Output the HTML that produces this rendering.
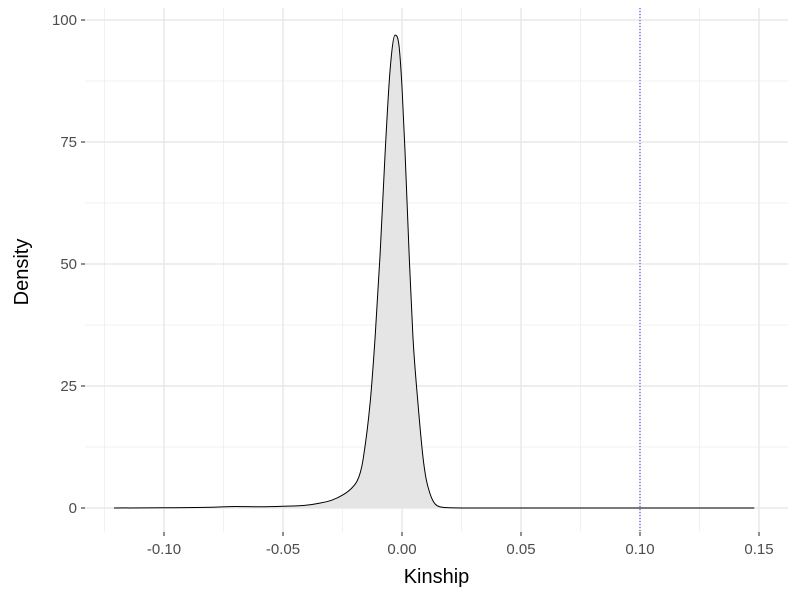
<!DOCTYPE html>
<html><head><meta charset="utf-8"><style>
body{margin:0;background:#fff;font-family:"Liberation Sans",sans-serif}
</style></head><body>
<svg id="c" width="800" height="600" xmlns="http://www.w3.org/2000/svg"></svg>
<script>
const xs=[-0.121,-0.1,-0.08,-0.07,-0.06,-0.05,-0.04,-0.0345,-0.0295,-0.0248,-0.0215,-0.019,-0.0175,-0.0164,-0.0134,-0.0113,-0.0092,-0.0071,-0.005,-0.0029,-0.0013,0,0.0013,0.003,0.0046,0.0067,0.0088,0.0102,0.0118,0.0132,0.0147,0.019,0.03,0.06,0.1,0.148];
const ys=[0,0.05,0.15,0.3,0.25,0.35,0.6,1.0,1.6,2.7,3.9,5.4,7.3,9.8,21.5,35,52,72.7,89.8,96.9,94.9,86.3,72.7,52,35,21.5,10.5,5.8,2.9,1.3,0.5,0.08,0,0,0,0];
const xTicks=[-0.10,-0.05,0,0.05,0.10,0.15];
const xLabels=["-0.10","-0.05","0.00","0.05","0.10","0.15"];
const yTicks=[0,25,50,75,100];
const vline=[0.1];
const NS="http://www.w3.org/2000/svg",svg=document.getElementById('c');
const L=85,R=788,T=8,B=532;
const X=v=>402+v*2380, Y=v=>508-v*4.88;
function el(t,a,p){const e=document.createElementNS(NS,t);for(const k in a)e.setAttribute(k,a[k]);(p||svg).appendChild(e);return e;}
const bg=el('rect',{x:L,y:T,width:R-L,height:B-T,fill:'#fff'});


const minorX=[-0.125];
for(let i=0;i<xTicks.length-1;i++)minorX.push((xTicks[i]+xTicks[i+1])/2);
minorX.forEach(m=>{const g=el('line',{x1:X(m),x2:X(m),y1:T,y2:B,stroke:'#ebebeb','stroke-width':0.7});

});
for(let i=0;i<yTicks.length-1;i++){const m=(yTicks[i]+yTicks[i+1])/2;const g=el('line',{x1:L,x2:R,y1:Y(m),y2:Y(m),stroke:'#ebebeb','stroke-width':0.7});

}
xTicks.forEach((v,i)=>{const g=el('line',{x1:X(v),x2:X(v),y1:T,y2:B,stroke:'#e8e8e8','stroke-width':1.5});


el('line',{x1:X(v),x2:X(v),y1:B,y2:B+4,stroke:'#333','stroke-width':1.1});
const t=el('text',{x:X(v),y:B+22,'text-anchor':'middle','font-size':15,fill:'#4d4d4d'});t.textContent=xLabels[i];

});
yTicks.forEach(v=>{const g=el('line',{x1:L,x2:R,y1:Y(v),y2:Y(v),stroke:'#e8e8e8','stroke-width':1.5});


el('line',{x1:L-4,x2:L,y1:Y(v),y2:Y(v),stroke:'#333','stroke-width':1.1});
const t=el('text',{x:L-8,y:Y(v)+5,'text-anchor':'end','font-size':15,fill:'#4d4d4d'});t.textContent=v;

});
function monoPath(){const n=xs.length,px=xs.map(X),py=ys.map(Y);const dl=[],m=[];
for(let i=0;i<n-1;i++)dl.push((py[i+1]-py[i])/(px[i+1]-px[i]));
m[0]=dl[0];m[n-1]=dl[n-2];
for(let i=1;i<n-1;i++){m[i]=(dl[i-1]*dl[i]<=0)?0:(dl[i-1]+dl[i])/2;}
for(let i=0;i<n-1;i++){if(dl[i]===0){m[i]=0;m[i+1]=0;continue;}const a=m[i]/dl[i],b=m[i+1]/dl[i],s=a*a+b*b;if(s>9){const t=3/Math.sqrt(s);m[i]=t*a*dl[i];m[i+1]=t*b*dl[i];}}
let d='M'+px[0].toFixed(1)+','+py[0].toFixed(1);
for(let i=0;i<n-1;i++){const h=(px[i+1]-px[i])/3;d+=` C${(px[i]+h).toFixed(2)},${(py[i]+m[i]*h).toFixed(2)} ${(px[i+1]-h).toFixed(2)},${(py[i+1]-m[i+1]*h).toFixed(2)} ${px[i+1].toFixed(2)},${py[i+1].toFixed(2)}`;}
return d;}
const d=monoPath();
const area=el('path',{d:d+` L${X(xs[xs.length-1])},${Y(0)} L${X(xs[0])},${Y(0)} Z`,fill:'#e5e5e5'});


const line=el('path',{d:d,fill:'none',stroke:'#000','stroke-width':1});


vline.forEach(v=>{const l=el('line',{x1:X(v),x2:X(v),y1:T,y2:B,stroke:'#0000ff','stroke-width':0.8,'stroke-dasharray':'1,2'});

});
const xt=el('text',{x:(L+R)/2,y:583,'text-anchor':'middle','font-size':20,fill:'#000'});xt.textContent='Kinship';


const yt=el('text',{x:0,y:0,'text-anchor':'middle','font-size':20,fill:'#000',transform:`translate(28,272) rotate(-90)`});yt.textContent='Density';


</script>
</body></html>
